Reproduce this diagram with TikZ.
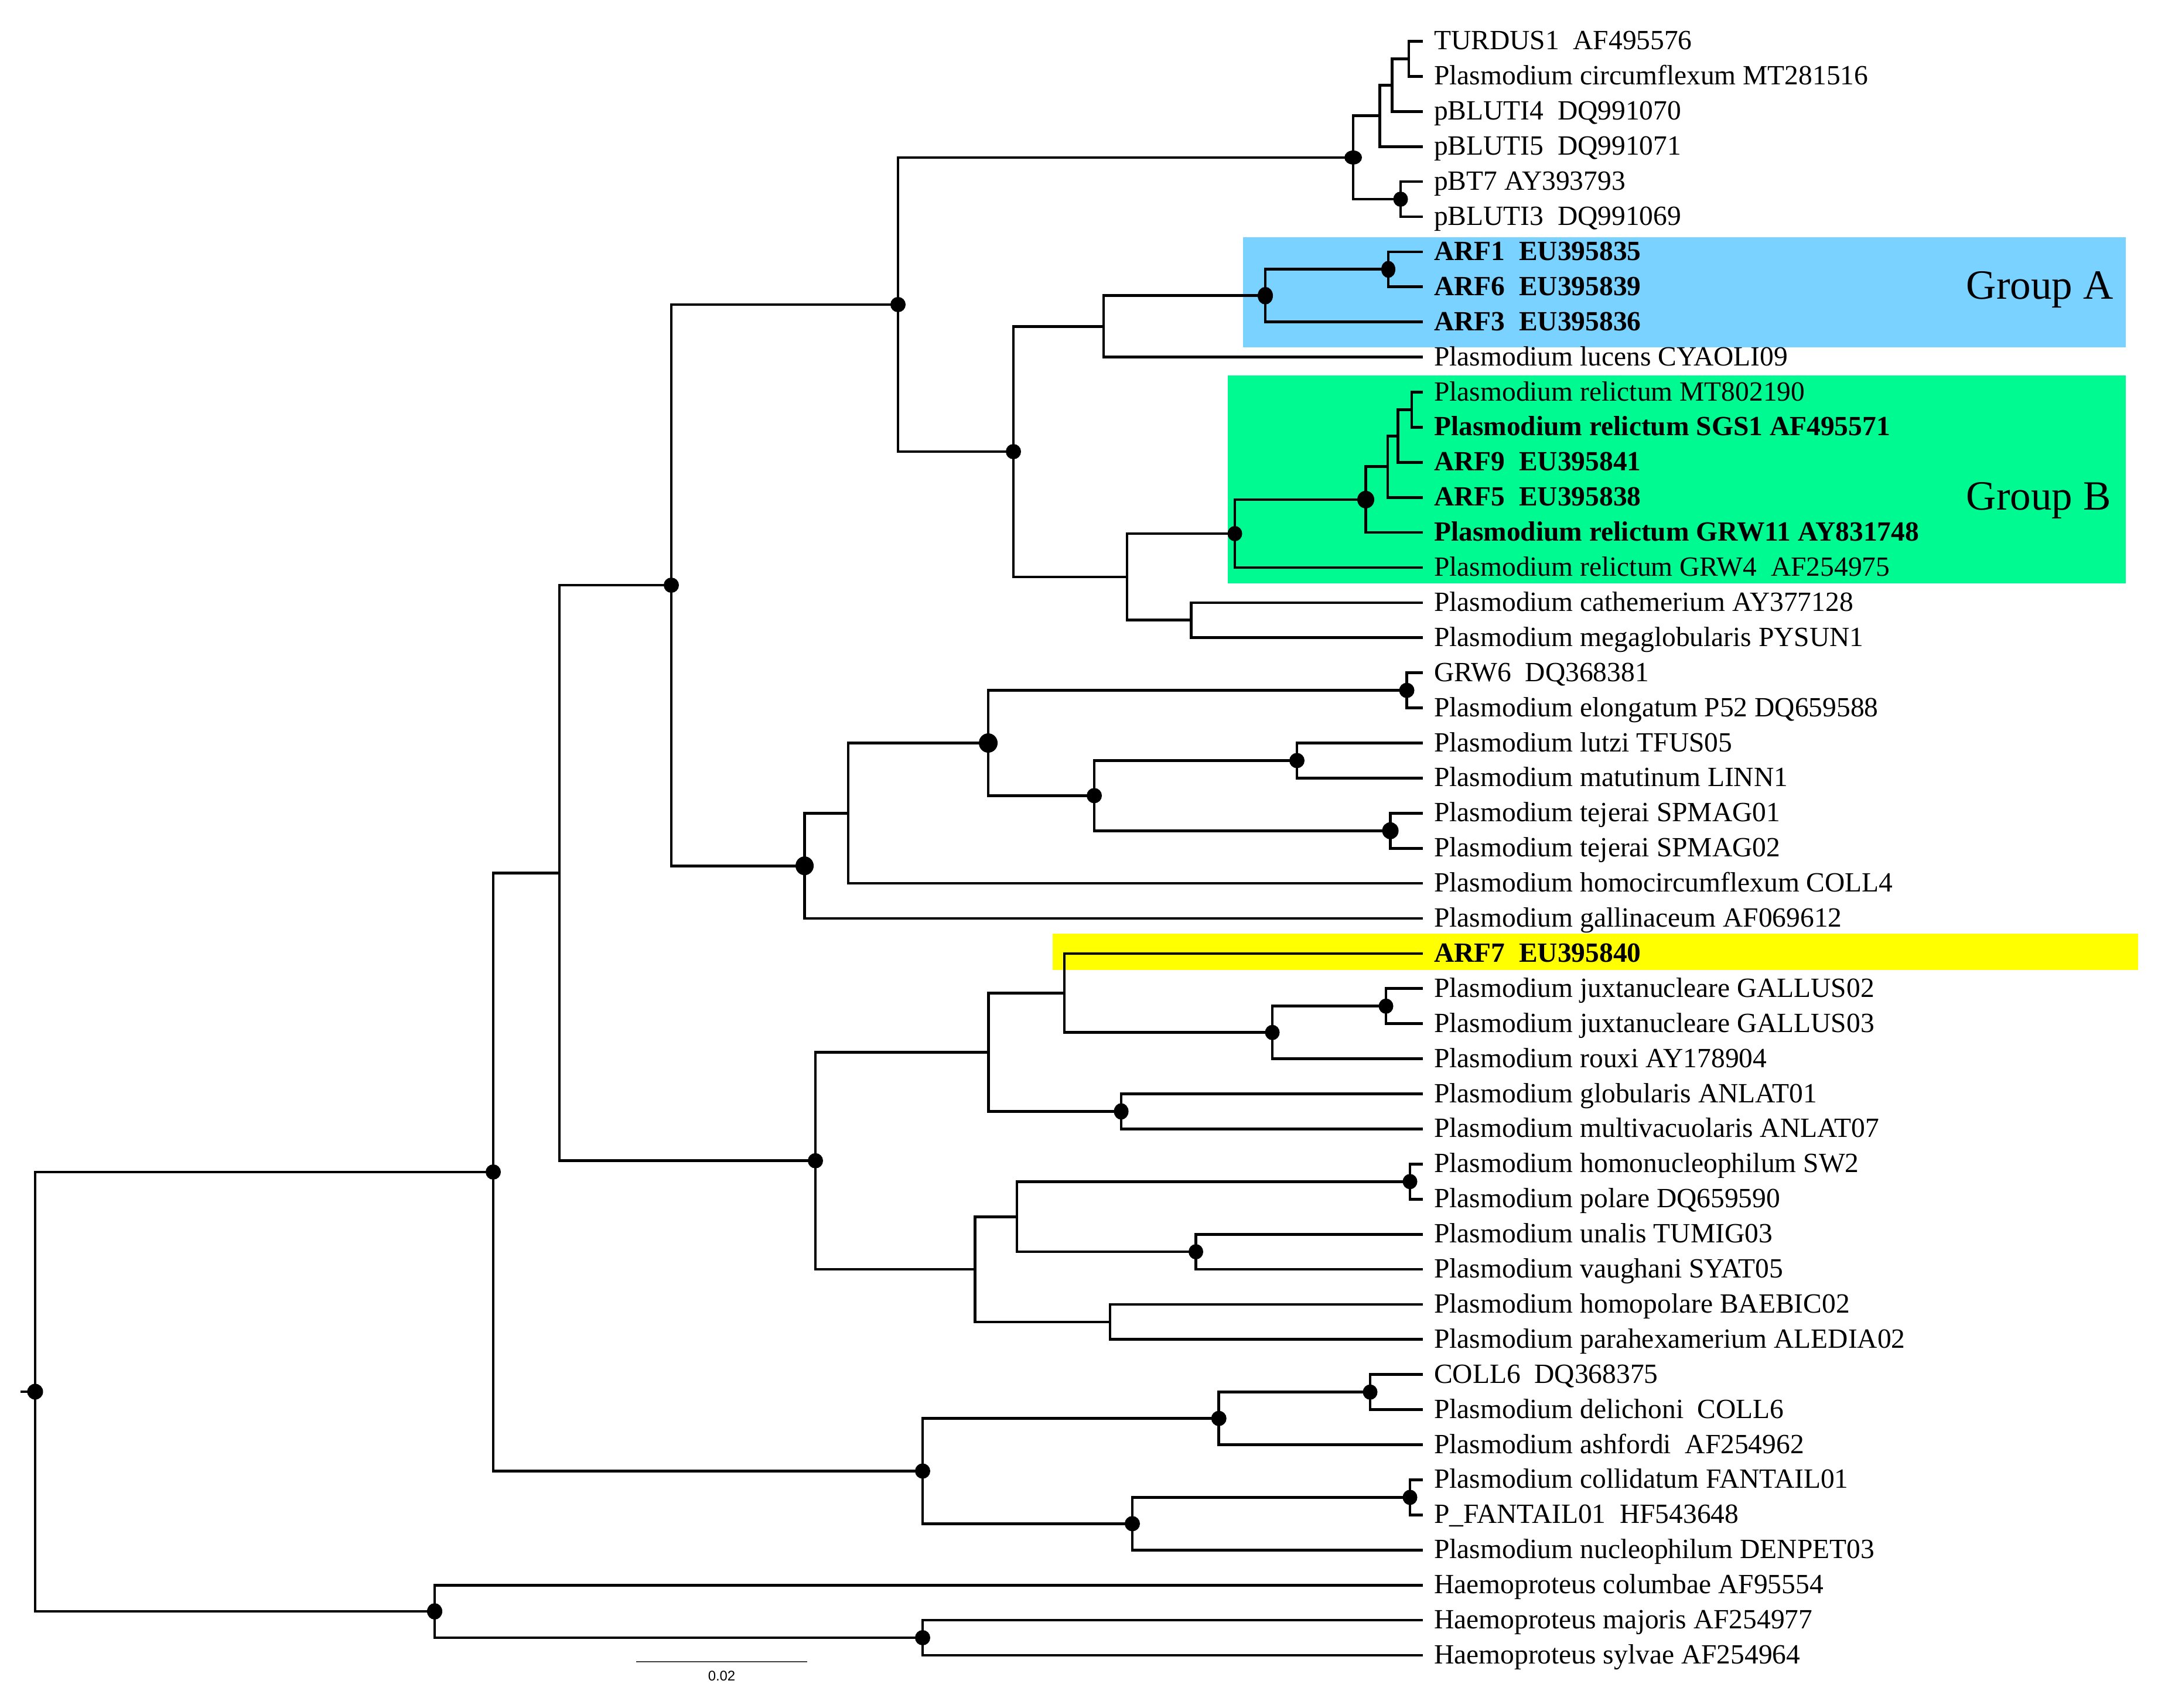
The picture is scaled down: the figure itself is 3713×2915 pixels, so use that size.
\documentclass[tikz,border=0pt]{standalone}
\usepackage{fontspec}
\setmainfont{Liberation Serif}
\newfontfamily\sansf{Liberation Sans}
\usetikzlibrary{calc}
\definecolor{boxA}{RGB}{121,210,255}
\definecolor{boxB}{RGB}{0,250,146}
\definecolor{boxY}{RGB}{255,255,0}
\newcommand\mydot[3]{\fill (#1) ellipse [x radius=#2cm, y radius=#3cm];}
\begin{document}
\begin{tikzpicture}[x=0.01cm,y=-0.01cm,
  br/.style={line width=1.35pt,line join=miter,line cap=butt},
  lab/.style={anchor=base west,inner sep=0pt,font=\fontsize{13.5pt}{16pt}\selectfont},
  blab/.style={anchor=base west,inner sep=0pt,font=\fontsize{13.5pt}{16pt}\selectfont\bfseries},
  grp/.style={anchor=base west,inner sep=0pt,font=\fontsize{20.2pt}{24pt}\selectfont}]
\useasboundingbox (0,0) rectangle (3713,2915);
\fill[white] (0,0) rectangle (3713,2915);
% highlight boxes
\fill[boxA] (2122,405) rectangle (3629,593);
\fill[boxB] (2095.5,641) rectangle (3629,996);
\fill[boxY] (1797,1594) rectangle (3650,1656);
% tips
\coordinate (t1) at (2429,70.5);
\coordinate (t2) at (2429,130.4);
\coordinate (t3) at (2429,190.3);
\coordinate (t4) at (2429,250.2);
\coordinate (t5) at (2429,310.1);
\coordinate (t6) at (2429,370.0);
\coordinate (t7) at (2429,429.9);
\coordinate (t8) at (2429,489.8);
\coordinate (t9) at (2429,549.7);
\coordinate (t10) at (2429,609.6);
\coordinate (t11) at (2429,669.5);
\coordinate (t12) at (2429,729.4);
\coordinate (t13) at (2429,789.3);
\coordinate (t14) at (2429,849.2);
\coordinate (t15) at (2429,909.1);
\coordinate (t16) at (2429,969.0);
\coordinate (t17) at (2429,1028.9);
\coordinate (t18) at (2429,1088.8);
\coordinate (t19) at (2429,1148.7);
\coordinate (t20) at (2429,1208.6);
\coordinate (t21) at (2429,1268.5);
\coordinate (t22) at (2429,1328.4);
\coordinate (t23) at (2429,1388.3);
\coordinate (t24) at (2429,1448.2);
\coordinate (t25) at (2429,1508.1);
\coordinate (t26) at (2429,1568.0);
\coordinate (t27) at (2429,1627.9);
\coordinate (t28) at (2429,1687.8);
\coordinate (t29) at (2429,1747.7);
\coordinate (t30) at (2429,1807.6);
\coordinate (t31) at (2429,1867.5);
\coordinate (t32) at (2429,1927.4);
\coordinate (t33) at (2429,1987.3);
\coordinate (t34) at (2429,2047.2);
\coordinate (t35) at (2429,2107.1);
\coordinate (t36) at (2429,2167.0);
\coordinate (t37) at (2429,2226.9);
\coordinate (t38) at (2429,2286.8);
\coordinate (t39) at (2429,2346.7);
\coordinate (t40) at (2429,2406.6);
\coordinate (t41) at (2429,2466.5);
\coordinate (t42) at (2429,2526.4);
\coordinate (t43) at (2429,2586.3);
\coordinate (t44) at (2429,2646.2);
\coordinate (t45) at (2429,2706.1);
\coordinate (t46) at (2429,2766.0);
\coordinate (t47) at (2429,2825.9);
% internal nodes
\coordinate (n1) at (2405,100.45);
\coordinate (n2) at (2376.5,145.4);
\coordinate (n3) at (2355.5,197.8);
\coordinate (n4) at (2391,340.05);
\coordinate (n5) at (2310,268.9);
\coordinate (n6) at (2370,459.85);
\coordinate (n7) at (2160,504.8);
\coordinate (n8) at (1884,557.2);
\coordinate (n9) at (2410,699.45);
\coordinate (n10) at (2386.5,744.4);
\coordinate (n11) at (2369,796.8);
\coordinate (n12) at (2331.5,852.95);
\coordinate (n13) at (2108,911.0);
\coordinate (n14) at (2033.5,1058.85);
\coordinate (n15) at (1924,984.9);
\coordinate (n16) at (1730,771.05);
\coordinate (n17) at (1533,519.98);
\coordinate (n18) at (2401.5,1178.65);
\coordinate (n19) at (2214,1298.45);
\coordinate (n20) at (2373.5,1418.25);
\coordinate (n21) at (1868,1358.35);
\coordinate (n22) at (1687,1268.5);
\coordinate (n23) at (1448,1388.3);
\coordinate (n24) at (1373.5,1478.15);
\coordinate (n25) at (1146,999.07);
\coordinate (n26) at (2366,1717.75);
\coordinate (n27) at (2172,1762.7);
\coordinate (n28) at (1817,1695.3);
\coordinate (n29) at (1914,1897.45);
\coordinate (n30) at (1687.5,1796.4);
\coordinate (n31) at (2407,2017.25);
\coordinate (n32) at (2041.5,2137.05);
\coordinate (n33) at (1736,2077.15);
\coordinate (n34) at (1895,2256.85);
\coordinate (n35) at (1664.5,2167.0);
\coordinate (n36) at (1392,1981.7);
\coordinate (n37) at (955,1490.4);
\coordinate (n38) at (2339,2376.65);
\coordinate (n39) at (2080.7,2421.6);
\coordinate (n40) at (2407,2556.35);
\coordinate (n41) at (1933,2601.3);
\coordinate (n42) at (1575,2511.45);
\coordinate (n43) at (842,2000.9);
\coordinate (n44) at (1575,2795.95);
\coordinate (n45) at (742,2751.0);
\coordinate (root) at (60,2375.95);
\coordinate (stub) at (35,2375.95);
% branches
\draw[br] (t1) -| (n1) |- (t2);
\draw[br] (n1) -| (n2) |- (t3);
\draw[br] (n2) -| (n3) |- (t4);
\draw[br] (t5) -| (n4) |- (t6);
\draw[br] (n3) -| (n5) |- (n4);
\draw[br] (t7) -| (n6) |- (t8);
\draw[br] (n6) -| (n7) |- (t9);
\draw[br] (n7) -| (n8) |- (t10);
\draw[br] (t11) -| (n9) |- (t12);
\draw[br] (n9) -| (n10) |- (t13);
\draw[br] (n10) -| (n11) |- (t14);
\draw[br] (n11) -| (n12) |- (t15);
\draw[br] (n12) -| (n13) |- (t16);
\draw[br] (t17) -| (n14) |- (t18);
\draw[br] (n13) -| (n15) |- (n14);
\draw[br] (n8) -| (n16) |- (n15);
\draw[br] (n5) -| (n17) |- (n16);
\draw[br] (t19) -| (n18) |- (t20);
\draw[br] (t21) -| (n19) |- (t22);
\draw[br] (t23) -| (n20) |- (t24);
\draw[br] (n19) -| (n21) |- (n20);
\draw[br] (n18) -| (n22) |- (n21);
\draw[br] (n22) -| (n23) |- (t25);
\draw[br] (n23) -| (n24) |- (t26);
\draw[br] (n17) -| (n25) |- (n24);
\draw[br] (t28) -| (n26) |- (t29);
\draw[br] (n26) -| (n27) |- (t30);
\draw[br] (t27) -| (n28) |- (n27);
\draw[br] (t31) -| (n29) |- (t32);
\draw[br] (n28) -| (n30) |- (n29);
\draw[br] (t33) -| (n31) |- (t34);
\draw[br] (t35) -| (n32) |- (t36);
\draw[br] (n31) -| (n33) |- (n32);
\draw[br] (t37) -| (n34) |- (t38);
\draw[br] (n33) -| (n35) |- (n34);
\draw[br] (n30) -| (n36) |- (n35);
\draw[br] (n25) -| (n37) |- (n36);
\draw[br] (t39) -| (n38) |- (t40);
\draw[br] (n38) -| (n39) |- (t41);
\draw[br] (t42) -| (n40) |- (t43);
\draw[br] (n40) -| (n41) |- (t44);
\draw[br] (n39) -| (n42) |- (n41);
\draw[br] (n37) -| (n43) |- (n42);
\draw[br] (t46) -| (n44) |- (t47);
\draw[br] (t45) -| (n45) |- (n44);
\draw[br] (n43) -| (root) |- (n45);
\draw[br] (stub) -- (root);
% support dots
\mydot{n4}{0.125}{0.13}
\mydot{n5}{0.15}{0.12}
\mydot{n6}{0.12}{0.145}
\mydot{n7}{0.13}{0.15}
\mydot{n12}{0.145}{0.15}
\mydot{n13}{0.125}{0.13}
\mydot{n16}{0.13}{0.13}
\mydot{n17}{0.13}{0.13}
\mydot{n18}{0.13}{0.13}
\mydot{n19}{0.13}{0.13}
\mydot{n20}{0.14}{0.145}
\mydot{n21}{0.13}{0.13}
\mydot{n22}{0.16}{0.165}
\mydot{n24}{0.155}{0.16}
\mydot{n25}{0.13}{0.13}
\mydot{n26}{0.125}{0.13}
\mydot{n27}{0.125}{0.13}
\mydot{n29}{0.125}{0.14}
\mydot{n31}{0.125}{0.13}
\mydot{n32}{0.125}{0.13}
\mydot{n36}{0.13}{0.13}
\mydot{n38}{0.125}{0.13}
\mydot{n39}{0.13}{0.13}
\mydot{n40}{0.125}{0.13}
\mydot{n41}{0.13}{0.13}
\mydot{n42}{0.13}{0.13}
\mydot{n43}{0.13}{0.13}
\mydot{n44}{0.13}{0.13}
\mydot{n45}{0.13}{0.14}
\mydot{root}{0.135}{0.135}
% labels
\node[lab] (l1) at ($(t1)+(18.5,14.5)$) {TURDUS1~ AF495576};
\node[lab] (l2) at ($(t2)+(18.5,14.5)$) {Plasmodium circumflexum MT281516};
\node[lab] (l3) at ($(t3)+(18.5,14.5)$) {pBLUTI4~ DQ991070};
\node[lab] (l4) at ($(t4)+(18.5,14.5)$) {pBLUTI5~ DQ991071};
\node[lab] (l5) at ($(t5)+(18.5,14.5)$) {pBT7 AY393793};
\node[lab] (l6) at ($(t6)+(18.5,14.5)$) {pBLUTI3~ DQ991069};
\node[blab] (l7) at ($(t7)+(18.5,14.5)$) {ARF1~ EU395835};
\node[blab] (l8) at ($(t8)+(18.5,14.5)$) {ARF6~ EU395839};
\node[blab] (l9) at ($(t9)+(18.5,14.5)$) {ARF3~ EU395836};
\node[lab] (l10) at ($(t10)+(18.5,14.5)$) {Plasmodium lucens CYAOLI09};
\node[lab] (l11) at ($(t11)+(18.5,14.5)$) {Plasmodium relictum MT802190};
\node[blab] (l12) at ($(t12)+(18.5,14.5)$) {Plasmodium relictum SGS1 AF495571};
\node[blab] (l13) at ($(t13)+(18.5,14.5)$) {ARF9~ EU395841};
\node[blab] (l14) at ($(t14)+(18.5,14.5)$) {ARF5~ EU395838};
\node[blab] (l15) at ($(t15)+(18.5,14.5)$) {Plasmodium relictum GRW11 AY831748};
\node[lab] (l16) at ($(t16)+(18.5,14.5)$) {Plasmodium relictum GRW4~ AF254975};
\node[lab] (l17) at ($(t17)+(18.5,14.5)$) {Plasmodium cathemerium AY377128};
\node[lab] (l18) at ($(t18)+(18.5,14.5)$) {Plasmodium megaglobularis PYSUN1};
\node[lab] (l19) at ($(t19)+(18.5,14.5)$) {GRW6~ DQ368381};
\node[lab] (l20) at ($(t20)+(18.5,14.5)$) {Plasmodium elongatum P52 DQ659588};
\node[lab] (l21) at ($(t21)+(18.5,14.5)$) {Plasmodium lutzi TFUS05};
\node[lab] (l22) at ($(t22)+(18.5,14.5)$) {Plasmodium matutinum LINN1};
\node[lab] (l23) at ($(t23)+(18.5,14.5)$) {Plasmodium tejerai SPMAG01};
\node[lab] (l24) at ($(t24)+(18.5,14.5)$) {Plasmodium tejerai SPMAG02};
\node[lab] (l25) at ($(t25)+(18.5,14.5)$) {Plasmodium homocircumflexum COLL4};
\node[lab] (l26) at ($(t26)+(18.5,14.5)$) {Plasmodium gallinaceum AF069612};
\node[blab] (l27) at ($(t27)+(18.5,14.5)$) {ARF7~ EU395840};
\node[lab] (l28) at ($(t28)+(18.5,14.5)$) {Plasmodium juxtanucleare GALLUS02};
\node[lab] (l29) at ($(t29)+(18.5,14.5)$) {Plasmodium juxtanucleare GALLUS03};
\node[lab] (l30) at ($(t30)+(18.5,14.5)$) {Plasmodium rouxi AY178904};
\node[lab] (l31) at ($(t31)+(18.5,14.5)$) {Plasmodium globularis ANLAT01};
\node[lab] (l32) at ($(t32)+(18.5,14.5)$) {Plasmodium multivacuolaris ANLAT07};
\node[lab] (l33) at ($(t33)+(18.5,14.5)$) {Plasmodium homonucleophilum SW2};
\node[lab] (l34) at ($(t34)+(18.5,14.5)$) {Plasmodium polare DQ659590};
\node[lab] (l35) at ($(t35)+(18.5,14.5)$) {Plasmodium unalis TUMIG03};
\node[lab] (l36) at ($(t36)+(18.5,14.5)$) {Plasmodium vaughani SYAT05};
\node[lab] (l37) at ($(t37)+(18.5,14.5)$) {Plasmodium homopolare BAEBIC02};
\node[lab] (l38) at ($(t38)+(18.5,14.5)$) {Plasmodium parahexamerium ALEDIA02};
\node[lab] (l39) at ($(t39)+(18.5,14.5)$) {COLL6~ DQ368375};
\node[lab] (l40) at ($(t40)+(18.5,14.5)$) {Plasmodium delichoni~ COLL6};
\node[lab] (l41) at ($(t41)+(18.5,14.5)$) {Plasmodium ashfordi~ AF254962};
\node[lab] (l42) at ($(t42)+(18.5,14.5)$) {Plasmodium collidatum FANTAIL01};
\node[lab] (l43) at ($(t43)+(18.5,14.5)$) {P\_FANTAIL01~ HF543648};
\node[lab] (l44) at ($(t44)+(18.5,14.5)$) {Plasmodium nucleophilum DENPET03};
\node[lab] (l45) at ($(t45)+(18.5,14.5)$) {Haemoproteus columbae AF95554};
\node[lab] (l46) at ($(t46)+(18.5,14.5)$) {Haemoproteus majoris AF254977};
\node[lab] (l47) at ($(t47)+(18.5,14.5)$) {Haemoproteus sylvae AF254964};
% group labels
\node[grp] (ga) at (3356,510) {Group A};
\node[grp] (gb) at (3356,870.5) {Group B};
% scale bar
\coordinate (sb1) at (1086,2836.6);
\coordinate (sb2) at (1377.6,2836.6);
\draw[black!75,line width=0.6pt] (sb1) -- (sb2);
\node[inner sep=0pt,font=\sansf\fontsize{6.8pt}{8pt}\selectfont] (sbl) at (1232,2861.5) {0.02};
\end{tikzpicture}
\end{document}
